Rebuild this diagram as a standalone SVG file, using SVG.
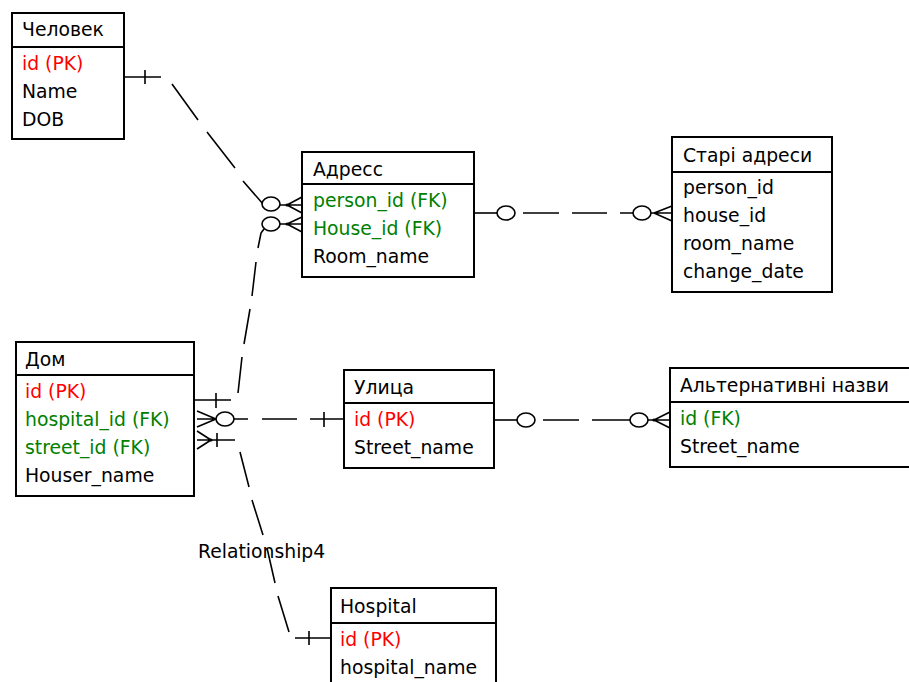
<svg xmlns="http://www.w3.org/2000/svg" width="909" height="682" viewBox="0 0 909 682">
<style>
  .box { fill: #ffffff; stroke: #000000; stroke-width: 2; }
  .sep { stroke: #000000; stroke-width: 2; }
  text { font-family: "DejaVu Sans", "Liberation Sans", sans-serif; font-size: 18.8px; fill: #000000; }
  .pk { fill: #ff0000; }
  .fk { fill: #008000; }
  .ln { fill: none; stroke: #000000; stroke-width: 1.6; }
  .circ { fill: #ffffff; stroke: #000000; stroke-width: 1.6; }
  .dot { fill: #000000; }
</style>
<rect width="909" height="682" fill="#ffffff"/>

<g id="connectors">
  <!-- Человек – Адресс -->
  <g id="rel-person-address">
    <path class="ln" d="M124,77 H161 M145,70 V84"/>
    <path class="ln" d="M172,84 L198,120 M207,132 L235,168 M243,181 L263,204"/>
    <ellipse class="circ" cx="271" cy="204" rx="9" ry="7"/>
    <path class="ln" d="M280,205 H287 M287,205 L302,197 M287,205 L302,205 M287,205 L302,213"/>
    <circle class="dot" cx="287" cy="205" r="1.6"/>
  </g>
  <!-- Дом – Адресс -->
  <g id="rel-house-address">
    <path class="ln" d="M194,400 H231 M216,393 V408"/>
    <path class="ln" d="M238,393 L242,357 M244,344 L250,309 M252,296 L256,262 M258,248 L261,233 L264,229"/>
    <ellipse class="circ" cx="271" cy="224" rx="9" ry="7"/>
    <path class="ln" d="M280,224 H287 M287,224 L302,217 M287,224 L302,224 M287,224 L302,232"/>
    <circle class="dot" cx="287" cy="224" r="1.6"/>
  </g>
  <!-- Адресс – Старі адреси -->
  <g id="rel-address-old">
    <path class="ln" d="M474,213 H497"/>
    <ellipse class="circ" cx="506" cy="213" rx="9" ry="7"/>
    <path class="ln" d="M523,213 H559 M572,213 H607 M620,213 H633"/>
    <ellipse class="circ" cx="642" cy="213" rx="9" ry="7"/>
    <path class="ln" d="M651,213 H654 M654,213 L672,206 M654,213 L672,213 M654,213 L672,221"/>
  </g>
  <!-- Дом – Улица -->
  <g id="rel-house-street">
    <path class="ln" d="M216,419 L197,411 M216,419 L197,419 M216,419 L197,427"/>
    <ellipse class="circ" cx="225" cy="419" rx="9" ry="7"/>
    <path class="ln" d="M234,419 H248 M262,419 H297 M310,419 H344 M324,412 V427"/>
  </g>
  <!-- Дом – Hospital -->
  <g id="rel-house-hospital">
    <path class="ln" d="M211,440 L197,431 M211,440 L197,440 M211,440 L197,449 M211,440 H235 M217,433 V447"/>
    <circle class="dot" cx="211" cy="440" r="1.6"/>
    <path class="ln" d="M240,452 L249,487 M252,500 L263,535 M267,548 L275,583 M278,596 L289,632"/>
    <path class="ln" d="M295,638 H331 M309,631 V645"/>
    <text x="198" y="558">Relationship4</text>
  </g>
  <!-- Улица – Альтернативні назви -->
  <g id="rel-street-alt">
    <path class="ln" d="M494,420 H517"/>
    <ellipse class="circ" cx="526" cy="420" rx="9" ry="7"/>
    <path class="ln" d="M543,420 H579 M592,420 H630"/>
    <ellipse class="circ" cx="639" cy="420" rx="9" ry="7"/>
    <path class="ln" d="M648,420 H654 M654,420 L670,412 M654,420 L670,420 M654,420 L670,428"/>
    <circle class="dot" cx="654" cy="420" r="1.6"/>
  </g>
</g>

<g id="node-person">
  <rect class="box" x="12" y="13" width="112" height="126"/>
  <line class="sep" x1="12" y1="47" x2="124" y2="47"/>
  <text x="22" y="36">Человек</text>
  <text x="22" y="70" class="pk">id (PK)</text>
  <text x="22" y="98">Name</text>
  <text x="22" y="126">DOB</text>
</g>

<g id="node-address">
  <rect class="box" x="302" y="152" width="172" height="125"/>
  <line class="sep" x1="302" y1="184" x2="474" y2="184"/>
  <text x="313" y="176">Адресс</text>
  <text x="313" y="207" class="fk">person_id (FK)</text>
  <text x="313" y="235" class="fk">House_id (FK)</text>
  <text x="313" y="263">Room_name</text>
</g>

<g id="node-old-addresses">
  <rect class="box" x="672" y="137" width="160" height="155"/>
  <line class="sep" x1="672" y1="172" x2="832" y2="172"/>
  <text x="683" y="162">Старі адреси</text>
  <text x="683" y="194">person_id</text>
  <text x="683" y="222">house_id</text>
  <text x="683" y="250">room_name</text>
  <text x="683" y="278">change_date</text>
</g>

<g id="node-house">
  <rect class="box" x="16" y="342" width="178" height="154"/>
  <line class="sep" x1="16" y1="375" x2="194" y2="375"/>
  <text x="25" y="366">Дом</text>
  <text x="25" y="398" class="pk">id (PK)</text>
  <text x="25" y="426" class="fk">hospital_id (FK)</text>
  <text x="25" y="454" class="fk">street_id (FK)</text>
  <text x="25" y="482">Houser_name</text>
</g>

<g id="node-street">
  <rect class="box" x="344" y="370" width="150" height="98"/>
  <line class="sep" x1="344" y1="403" x2="494" y2="403"/>
  <text x="354" y="394">Улица</text>
  <text x="354" y="426" class="pk">id (PK)</text>
  <text x="354" y="454">Street_name</text>
</g>

<g id="node-alt-names">
  <rect class="box" x="670" y="368" width="260" height="99"/>
  <line class="sep" x1="670" y1="402" x2="930" y2="402"/>
  <text x="680" y="392">Альтернативні назви</text>
  <text x="680" y="425" class="fk">id (FK)</text>
  <text x="680" y="453">Street_name</text>
</g>

<g id="node-hospital">
  <rect class="box" x="331" y="588" width="165" height="100"/>
  <line class="sep" x1="331" y1="623" x2="496" y2="623"/>
  <text x="340" y="613">Hospital</text>
  <text x="340" y="646" class="pk">id (PK)</text>
  <text x="340" y="674">hospital_name</text>
</g>
</svg>
